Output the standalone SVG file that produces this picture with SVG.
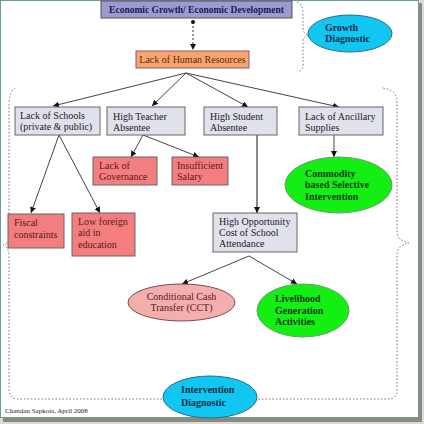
<svg xmlns="http://www.w3.org/2000/svg" width="424" height="424" viewBox="0 0 424 424">
<defs>
<marker id="ah" viewBox="0 0 10 10" refX="10" refY="5" markerWidth="6" markerHeight="6" markerUnits="userSpaceOnUse" orient="auto">
<path d="M0,0 L10,5 L0,10 z" fill="#111"/>
</marker>
<style>
text{font-family:"Liberation Serif","Times New Roman",serif;font-size:10px;fill:#222}
.b{font-weight:bold}
.box{fill:#e1e1ec;stroke:#666;stroke-width:1}
.red{fill:#f47e7e;stroke:#666;stroke-width:1}
.grn{fill:#13ee13;stroke:#6a9a6a;stroke-width:1}
.blu{fill:#12c6f2;stroke:#2a6a8a;stroke-width:1}
.ln{stroke:#444;stroke-width:1;fill:none;marker-end:url(#ah)}
.dot{stroke:#806868;stroke-width:1;fill:none;stroke-dasharray:1.5 2}
</style>
</defs>
<rect x="0" y="0" width="424" height="424" fill="#dcdcd4"/>
<rect x="3" y="3" width="419" height="419" fill="#8a8a7e"/>
<rect x="0.5" y="0.5" width="418" height="417" fill="#fff" stroke="#6a9a9a" stroke-width="1"/>

<g id="braces">
<path class="dot" d="M297,2 Q303,4 303,14 L303,28 Q303,34 309,35 Q303,36 303,42 L303,64 Q303,71 297,72"/>
<path class="dot" d="M15,88 Q9,92 9,104 L9,236 Q9,244 3,245 Q9,247 9,256 L9,390 Q9,399 18,399 L388,399 Q397,399 397,390 L397,254 Q397,246 409,243 Q397,240 397,232 L397,102 Q397,90 383,88"/>
</g>

<g id="connectors">
<line x1="193" y1="22" x2="193" y2="50" stroke="#333" stroke-width="1" stroke-dasharray="2 2" marker-end="url(#ah)"/>
<circle cx="193" cy="22" r="2" fill="#111"/>
<line class="ln" x1="186" y1="73" x2="53" y2="106"/>
<line class="ln" x1="186" y1="73" x2="152" y2="106"/>
<line class="ln" x1="186" y1="73" x2="248" y2="107"/>
<line class="ln" x1="186" y1="73" x2="339" y2="107"/>
<line class="ln" x1="59" y1="135" x2="31" y2="213"/>
<line class="ln" x1="59" y1="135" x2="100" y2="213"/>
<line class="ln" x1="143" y1="135" x2="131" y2="157"/>
<line class="ln" x1="143" y1="135" x2="199" y2="157"/>
<line class="ln" x1="334" y1="135" x2="334" y2="157"/>
<line x1="257" y1="135" x2="257" y2="213" stroke="#888" stroke-width="2" marker-end="url(#ah)"/>
<line class="ln" x1="249" y1="256" x2="182" y2="284"/>
<line class="ln" x1="249" y1="256" x2="297" y2="284"/>
</g>

<g id="n-econ">
<rect x="101" y="1" width="191" height="17" fill="#9b9bd2" stroke="#555" stroke-width="1"/>
<text class="b" x="196.5" y="13" text-anchor="middle" style="fill:#1a1a50;font-size:9.5px">Economic Growth/ Economic Development</text>
</g>
<g id="n-growth">
<ellipse cx="350" cy="33.5" rx="42" ry="18.5" class="blu"/>
<text class="b" x="325" y="31" style="fill:#10304a">Growth</text>
<text class="b" x="325" y="42" style="fill:#10304a">Diagnostic</text>
</g>
<g id="n-human">
<rect x="136" y="51" width="113" height="17" fill="#f9a56a" stroke="#7a5a8a" stroke-width="1"/>
<text x="192.5" y="63" text-anchor="middle" style="fill:#5a2a1a">Lack of Human Resources</text>
</g>
<g id="n-schools">
<rect x="15" y="107" width="85" height="28" class="box"/>
<text x="20" y="119">Lack of Schools</text>
<text x="20" y="130">(private &amp; public)</text>
</g>
<g id="n-teacher">
<rect x="107" y="107" width="78" height="28" class="box"/>
<text x="113" y="120">High Teacher</text>
<text x="113" y="131">Absentee</text>
</g>
<g id="n-student">
<rect x="204" y="107" width="73" height="28" class="box"/>
<text x="210" y="120">High Student</text>
<text x="210" y="131">Absentee</text>
</g>
<g id="n-ancillary">
<rect x="299" y="107" width="84" height="28" class="box"/>
<text x="305" y="120">Lack of Ancillary</text>
<text x="305" y="131">Supplies</text>
</g>
<g id="n-governance">
<rect x="93" y="157" width="64" height="28" class="red"/>
<text x="99" y="169" style="fill:#5a1a1a">Lack of</text>
<text x="99" y="180" style="fill:#5a1a1a">Governance</text>
</g>
<g id="n-salary">
<rect x="172" y="157" width="56" height="28" class="red"/>
<text x="177" y="169" style="fill:#5a1a1a">Insufficient</text>
<text x="177" y="180" style="fill:#5a1a1a">Salary</text>
</g>
<g id="n-commodity">
<ellipse cx="338.5" cy="185" rx="53.5" ry="28" class="grn"/>
<text class="b" x="305" y="177" style="fill:#1a3a1a">Commodity</text>
<text class="b" x="305" y="188" style="fill:#1a3a1a">based Selective</text>
<text class="b" x="305" y="200" style="fill:#1a3a1a">Intervention</text>
</g>
<g id="n-fiscal">
<rect x="8" y="214" width="56" height="34" class="red"/>
<text x="14" y="226" style="fill:#5a1a1a">Fiscal</text>
<text x="14" y="238" style="fill:#5a1a1a">constraints</text>
</g>
<g id="n-foreign">
<rect x="72" y="213" width="63" height="43" class="red"/>
<text x="78" y="225" style="fill:#5a1a1a">Low foreign</text>
<text x="78" y="236" style="fill:#5a1a1a">aid in</text>
<text x="78" y="248" style="fill:#5a1a1a">education</text>
</g>
<g id="n-opportunity">
<rect x="213" y="213" width="84" height="39" class="box"/>
<text x="219" y="225">High Opportunity</text>
<text x="219" y="236">Cost of School</text>
<text x="219" y="247">Attendance</text>
</g>
<g id="n-cct">
<ellipse cx="181.5" cy="302.5" rx="53.5" ry="18.5" fill="#f5aeae" stroke="#7a4a4a" stroke-width="1"/>
<text x="181.5" y="300" text-anchor="middle" style="fill:#5a1a1a">Conditional Cash</text>
<text x="181.5" y="311" text-anchor="middle" style="fill:#5a1a1a">Transfer (CCT)</text>
</g>
<g id="n-livelihood">
<ellipse cx="303" cy="310.5" rx="46" ry="26.5" class="grn"/>
<text class="b" x="275" y="302" style="fill:#1a3a1a">Livelihood</text>
<text class="b" x="275" y="314" style="fill:#1a3a1a">Generation</text>
<text class="b" x="275" y="325" style="fill:#1a3a1a">Activities</text>
</g>
<g id="n-intervention">
<ellipse cx="210" cy="397" rx="47" ry="21" class="blu"/>
<text class="b" x="181" y="393" style="fill:#10304a">Intervention</text>
<text class="b" x="181" y="406" style="fill:#10304a">Diagnostic</text>
</g>
<text x="5" y="413" style="font-size:7px">Chandan Sapkota, April 2008</text>
</svg>
